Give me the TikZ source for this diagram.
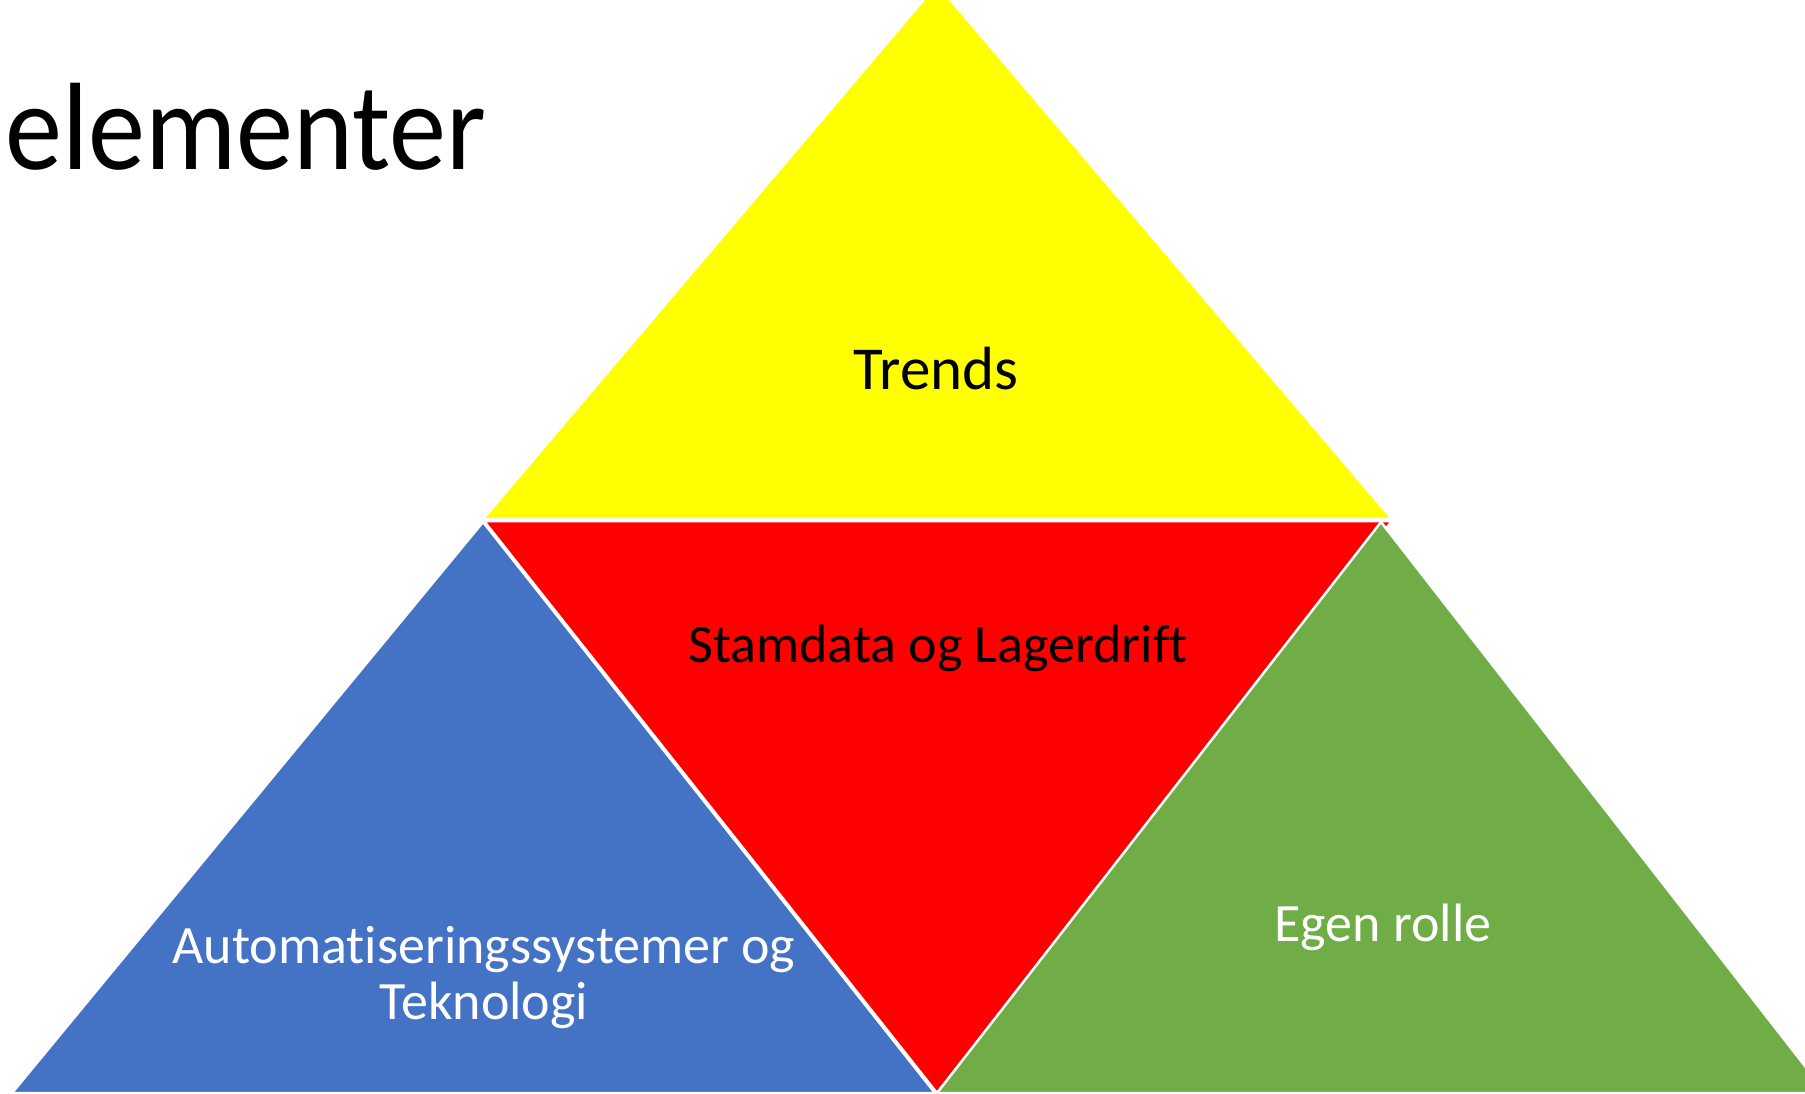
\documentclass[tikz,border=0pt]{standalone}
\usepackage{fontspec}
\setmainfont{Carlito}[Ligatures=NoCommon]
\definecolor{trendyellow}{HTML}{FFFF00}
\definecolor{stamred}{HTML}{FF0000}
\definecolor{autoblue}{HTML}{4472C4}
\definecolor{rollegreen}{HTML}{70AD47}
\begin{document}
\begin{tikzpicture}[x=1pt,y=-1pt,
  piece/.style={draw=white,line width=2.5pt,line join=miter},
  label/.style={inner sep=0pt,anchor=base,font=\fontsize{54}{56}\selectfont}]
\useasboundingbox (0,0) rectangle (1805,1093);
\clip (0,0) rectangle (1805,1093);
\fill[white] (0,0) rectangle (1805,1093);

% four triangles
\filldraw[piece,fill=trendyellow] (937,-16) -- (1392,519) -- (483,519) -- cycle;
\filldraw[piece,fill=stamred] (484,521) -- (1392,521) -- (937,1093) -- cycle;
\filldraw[piece,fill=autoblue] (483,522) -- (935,1093) -- (12,1093) -- cycle;
\filldraw[piece,fill=rollegreen] (1381,522) -- (1826,1093) -- (937,1093) -- cycle;

% labels
\node[inner sep=0pt,anchor=base west,font=\fontsize{112}{134}\selectfont] (title) at (5,169) {\scalebox{1.02}[1.11]{elementer}};
\node[label,font=\fontsize{61}{72}\selectfont] (trends) at (936,389) {Trends};
\node[label] (stam) at (938,662) {Stamdata og Lagerdrift};
\node[label,text=white,align=center] (auto) at (484,1019) {Automatiseringssystemer og\\Teknologi};
\node[label,text=white] (rolle) at (1383,941) {Egen rolle};
\end{tikzpicture}
\end{document}
